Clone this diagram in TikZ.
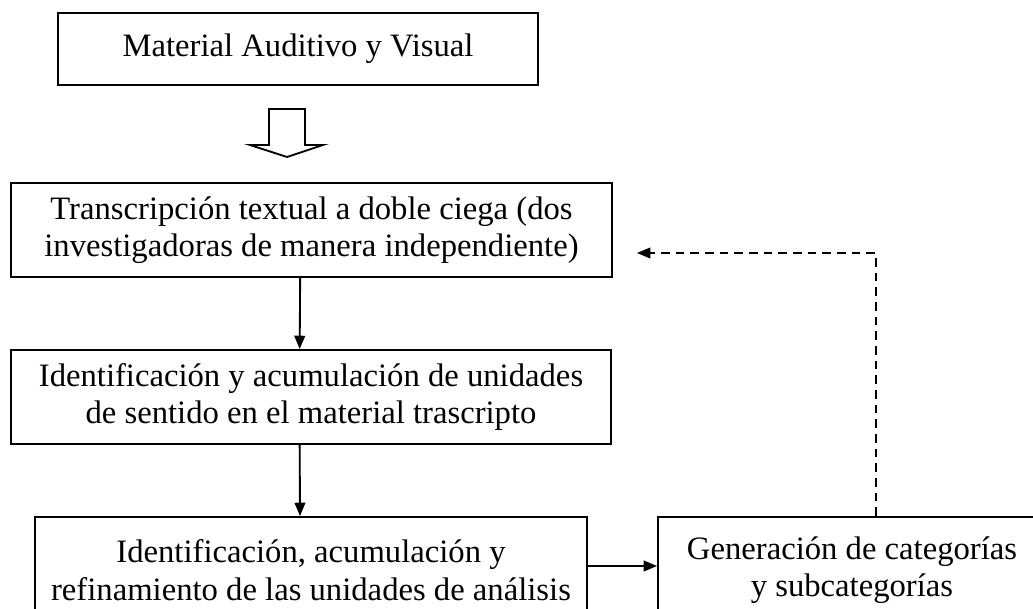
\documentclass[tikz,border=0pt]{standalone}
\usepackage{fontspec}
\setmainfont{Liberation Serif}
\usetikzlibrary{arrows.meta}
\begin{document}
\begin{tikzpicture}[x=0.75pt,y=-0.75pt,
    paso/.style={draw,line width=1.4pt,inner sep=0pt,align=center,
      font=\fontsize{24.5}{28}\selectfont},
    flecha/.style={line width=1.4pt,-{Triangle[length=10pt,width=8pt]}},
    retorno/.style={line width=1.1pt,dash pattern=on 6.5pt off 4.5pt,-{Triangle[length=10pt,width=8pt]}}]
  \useasboundingbox (0,0) rectangle (1033,609);
  \clip (0,0) rectangle (1033,609);
  % pasos
  \node[paso,minimum width=480*0.75pt,minimum height=72*0.75pt] (material) at (298,49) {Material Auditivo y Visual};
  \node[paso,minimum width=601*0.75pt,minimum height=94*0.75pt] (transcripcion) at (311.5,230)
    {Transcripción textual a doble ciega (dos\\investigadoras de manera independiente)};
  \node[paso,minimum width=600*0.75pt,minimum height=94*0.75pt] (unidades) at (311,397)
    {Identificación y acumulación de unidades\\de sentido en el material trascripto};
  \node[paso,minimum width=552*0.75pt,minimum height=106*0.75pt] (analisis) at (311,570)
    {Identificación, acumulación y\\refinamiento de las unidades de análisis};
  \node[paso,minimum width=388*0.75pt,minimum height=106*0.75pt] (categorias) at (852,570)
    {Generación de categorías\\y subcategorías};
  % flecha hueca
  \draw[line width=1.4pt,line join=miter] (269,109) -- (305,109) -- (305,145) -- (323,145) -- (287,157)
    -- (250,145) -- (269,145) -- cycle;
  % flechas
  \draw[flecha] ([xshift=-8.5pt]transcripcion.south) -- ([xshift=-8.5pt]unidades.north);
  \draw[flecha] ([xshift=-8.5pt]unidades.south) -- ([xshift=-8.25pt]analisis.north);
  \draw[flecha] ([yshift=3pt]analisis.east) -- ([yshift=3pt]categorias.west);
  \coordinate (esquina) at (876,253);
  \draw[retorno] ([xshift=18pt]categorias.north) -- (esquina) -- ([xshift=18pt]transcripcion.east |- esquina);
\end{tikzpicture}
\end{document}
